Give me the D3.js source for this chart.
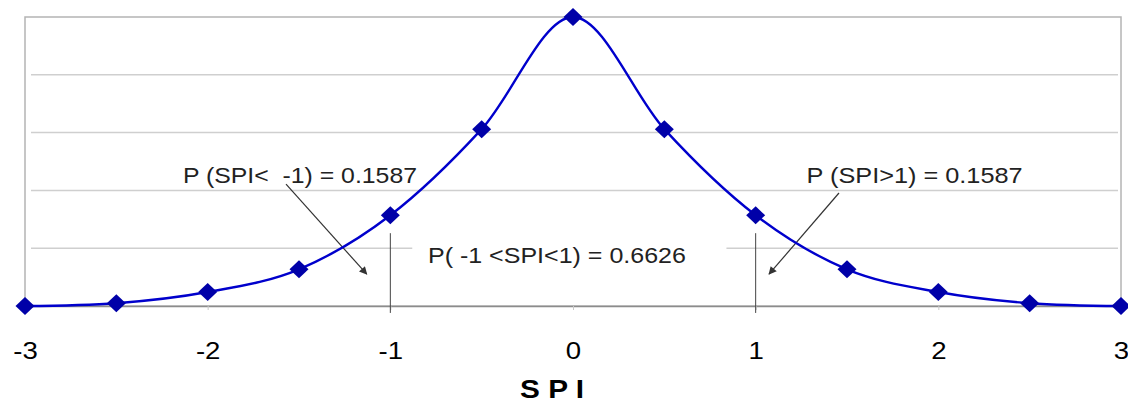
<!DOCTYPE html>
<html>
<head>
<meta charset="utf-8">
<script src="https://cdn.jsdelivr.net/npm/d3@7"></script>
<style>
  body { margin: 0; background: #fff; }
  svg { display: block; font-family: "Liberation Sans", Arial, sans-serif; }
</style>
</head>
<body>
<svg id="chart" width="1128" height="402"></svg>
<script>
// values
const spi = [-3, -2.5, -2, -1.5, -1, -0.5, 0, 0.5, 1, 1.5, 2, 2.5, 3];
const density = [0, 0.0048, 0.0242, 0.0635, 0.157, 0.306, 0.5, 0.306, 0.157, 0.0635, 0.0242, 0.0048, 0];
const xTicks = [-3, -2, -1, 0, 1, 2, 3];
const yGrid = [0.1, 0.2, 0.3, 0.4];

const svg = d3.select("#chart");
const width = 1128, height = 402;
const margin = {top: 17, right: 7, bottom: 96, left: 25};

const x = d3.scaleLinear().domain([-3, 3]).range([margin.left, width - margin.right]);
const y = d3.scaleLinear().domain([0, 0.5]).range([height - margin.bottom, margin.top]);

// plot frame
svg.append("rect")
    .attr("x", x(-3)).attr("y", y(0.5))
    .attr("width", x(3) - x(-3)).attr("height", y(0) - y(0.5))
    .attr("fill", "none").attr("stroke", "#b4b4b4").attr("stroke-width", 1.5);

// gridlines
svg.append("g").selectAll("line")
    .data(yGrid).enter().append("line")
    .attr("x1", x(-3) + 6).attr("x2", x(3) - 3)
    .attr("y1", d => y(d)).attr("y2", d => y(d))
    .attr("stroke", "#cfcfcf").attr("stroke-width", 1.5);

// x axis
const gx = svg.append("g")
    .attr("transform", "translate(0," + y(0) + ")")
    .call(d3.axisBottom(x).tickValues(xTicks).tickSize(4).tickFormat(d => String(d)));
gx.select(".domain").attr("stroke", "#8c8c8c").attr("stroke-width", 1.5);
gx.selectAll(".tick line").attr("stroke", "#c8c8c8");
gx.selectAll(".tick text")
    .attr("y", 53).attr("dy", 0)
    .attr("transform", "scale(1.15,1)")
    .attr("fill", "#000")
    .attr("font-size", "24px")
    .attr("font-family", "Liberation Sans, Arial, sans-serif");

// axis title
svg.append("text")
    .attr("x", x(0) - 53).attr("y", 398)
    .attr("textLength", 64).attr("lengthAdjust", "spacingAndGlyphs")
    .attr("font-size", "25px").attr("font-weight", "bold")
    .text("S P I");

// white label box hiding the gridline behind the middle label
svg.append("rect")
    .attr("x", x(-0.88)).attr("y", y(0.128))
    .attr("width", x(0.84) - x(-0.88)).attr("height", y(0.036) - y(0.128))
    .attr("fill", "#fff");

// marker lines at -1 and 1
svg.append("g").selectAll("line")
    .data([-1, 1]).enter().append("line")
    .attr("x1", d => x(d)).attr("x2", d => x(d))
    .attr("y1", y(0.126)).attr("y2", y(-0.012))
    .attr("stroke", "#444").attr("stroke-width", 1);

// arrowhead
svg.append("defs").append("marker")
    .attr("id", "arrow")
    .attr("viewBox", "0 0 10 10").attr("refX", 9).attr("refY", 5)
    .attr("markerWidth", 10).attr("markerHeight", 8)
    .attr("markerUnits", "userSpaceOnUse")
    .attr("orient", "auto")
    .append("path").attr("d", "M0,0L10,5L0,10Z").attr("fill", "#333");

const arrows = [
  {x1: -1.571, y1: 0.211, x2: -1.129, y2: 0.055},
  {x1: 1.456, y1: 0.1955, x2: 1.073, y2: 0.055}
];
svg.append("g").selectAll("line")
    .data(arrows).enter().append("line")
    .attr("x1", d => x(d.x1)).attr("y1", d => y(d.y1))
    .attr("x2", d => x(d.x2)).attr("y2", d => y(d.y2))
    .attr("stroke", "#333").attr("stroke-width", 1.2)
    .attr("marker-end", "url(#arrow)");

// annotation labels
const notes = [
  {x: -2.135, y: 0.2128, w: 234, t: "P (SPI<  -1) = 0.1587"},
  {x: 1.279, y: 0.2128, w: 216, t: "P (SPI>1) = 0.1587"},
  {x: -0.794, y: 0.0744, w: 258, t: "P( -1 <SPI<1) = 0.6626"}
];
svg.append("g").selectAll("text")
    .data(notes).enter().append("text")
    .attr("x", d => x(d.x)).attr("y", d => y(d.y))
    .attr("textLength", d => d.w).attr("lengthAdjust", "spacingAndGlyphs")
    .attr("font-size", "22px").attr("fill", "#222")
    .attr("xml:space", "preserve")
    .style("white-space", "pre")
    .text(d => d.t);

// smoothed curve
const pts = spi.map((v, i) => [v, density[i]]);
const line = d3.line()
    .x(d => x(d[0])).y(d => y(d[1]))
    .curve(d3.curveCardinal.tension(0));
svg.append("path")
    .datum(pts)
    .attr("d", line)
    .attr("fill", "none").attr("stroke", "#0000cc").attr("stroke-width", 2.4);

// diamond markers
svg.append("g").selectAll("path")
    .data(pts).enter().append("path")
    .attr("transform", d => "translate(" + x(d[0]) + "," + y(d[1]) + ")")
    .attr("d", "M0,-9L9.5,0L0,9L-9.5,0Z")
    .attr("fill", "#0000a8");
</script>
</body>
</html>
